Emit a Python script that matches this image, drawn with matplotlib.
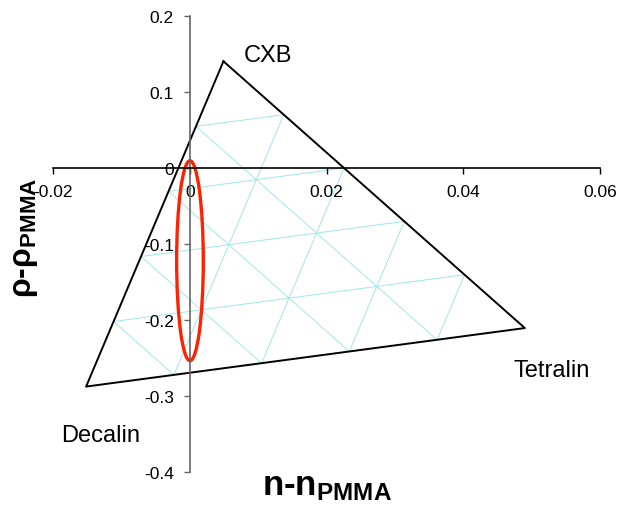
import matplotlib
matplotlib.use("Agg")
import matplotlib.pyplot as plt
from matplotlib.patches import Ellipse
import numpy as np

plt.rcParams['font.family'] = ['Liberation Sans', 'DejaVu Sans']
plt.rcParams['mathtext.default'] = 'regular'
plt.rcParams['axes.unicode_minus'] = False

# Solvent positions: refractive index and density differences relative to PMMA
solvents = ["CXB", "Tetralin", "Decalin"]
dn = [0.0049, 0.0490, -0.0152]
drho = [0.140, -0.211, -0.288]

# Region of index-matched mixtures
match_center = (0.0, -0.1224)
match_width = 0.0039
match_height = 0.263

xticks = [-0.02, 0, 0.02, 0.04, 0.06]
xticklabels = ["-0.02", "0", "0.02", "0.04", "0.06"]
yticks = [-0.4, -0.3, -0.2, -0.1, 0, 0.1, 0.2]
yticklabels = ["-0.4", "-0.3", "-0.2", "-0.1", "0", "0.1", "0.2"]

grid_fracs = [0.2, 0.4, 0.6, 0.8]

fig = plt.figure(figsize=(6.21, 5.06), dpi=100)
ax = fig.add_axes([0.0858, 0.0658, 0.8804, 0.9012])
ax.set_xlim(-0.02, 0.06)
ax.set_ylim(-0.4, 0.2)

V = np.column_stack([dn, drho])

# Ternary composition grid
for k in range(3):
    others = [j for j in range(3) if j != k]
    for f in grid_fracs:
        p1 = f * V[k] + (1 - f) * V[others[0]]
        p2 = f * V[k] + (1 - f) * V[others[1]]
        ax.plot([p1[0], p2[0]], [p1[1], p2[1]], color='#9fe6ee', lw=0.7, zorder=1)

# Triangle outline
tri = np.vstack([V, V[:1]])
ax.plot(tri[:, 0], tri[:, 1], color='black', lw=1.4, zorder=2)

# Vertex labels
label_pos = {"CXB": (0.0078, 0.140), "Tetralin": (0.0473, -0.2745), "Decalin": (-0.0188, -0.3592)}
for name in solvents:
    x, y = label_pos[name]
    ax.text(x, y, name, fontsize=17, ha='left', va='baseline')

ell = Ellipse(match_center, match_width, match_height, fill=False,
              edgecolor='#ff2200', lw=2.4, zorder=3)
ax.add_patch(ell)

# Axes crossing at the origin
for s in ['top', 'right']:
    ax.spines[s].set_visible(False)
ax.spines['left'].set_position(('data', 0))
ax.spines['bottom'].set_position(('data', 0))
ax.spines['bottom'].set_color('black')
ax.spines['bottom'].set_linewidth(1.2)
ax.spines['left'].set_color('#666666')
ax.spines['left'].set_linewidth(1.2)
ax.spines['left'].set_zorder(4)
ax.spines['bottom'].set_zorder(4)

ax.set_xticks(xticks)
ax.set_xticklabels(xticklabels)
ax.set_yticks(yticks)
ax.set_yticklabels(yticklabels)
ax.tick_params(axis='x', direction='out', length=4.5, width=1.0, color='black',
               labelsize=12.5, pad=7)
ax.tick_params(axis='y', direction='out', length=4.5, width=1.0, color='#666666',
               labelsize=12.5, pad=7)
ax.patch.set_visible(False)

fig.text(327 / 621, (506 - 495) / 506, 'n-n$_{PMMA}$', fontsize=25, fontweight='bold',
         ha='center', va='baseline')
fig.text(25 / 621, (506 - 238) / 506, 'ρ-ρ$_{PMMA}$', fontsize=23, fontweight='bold',
         ha='center', va='center', rotation=90)

fig.savefig('out.png', dpi=100)
